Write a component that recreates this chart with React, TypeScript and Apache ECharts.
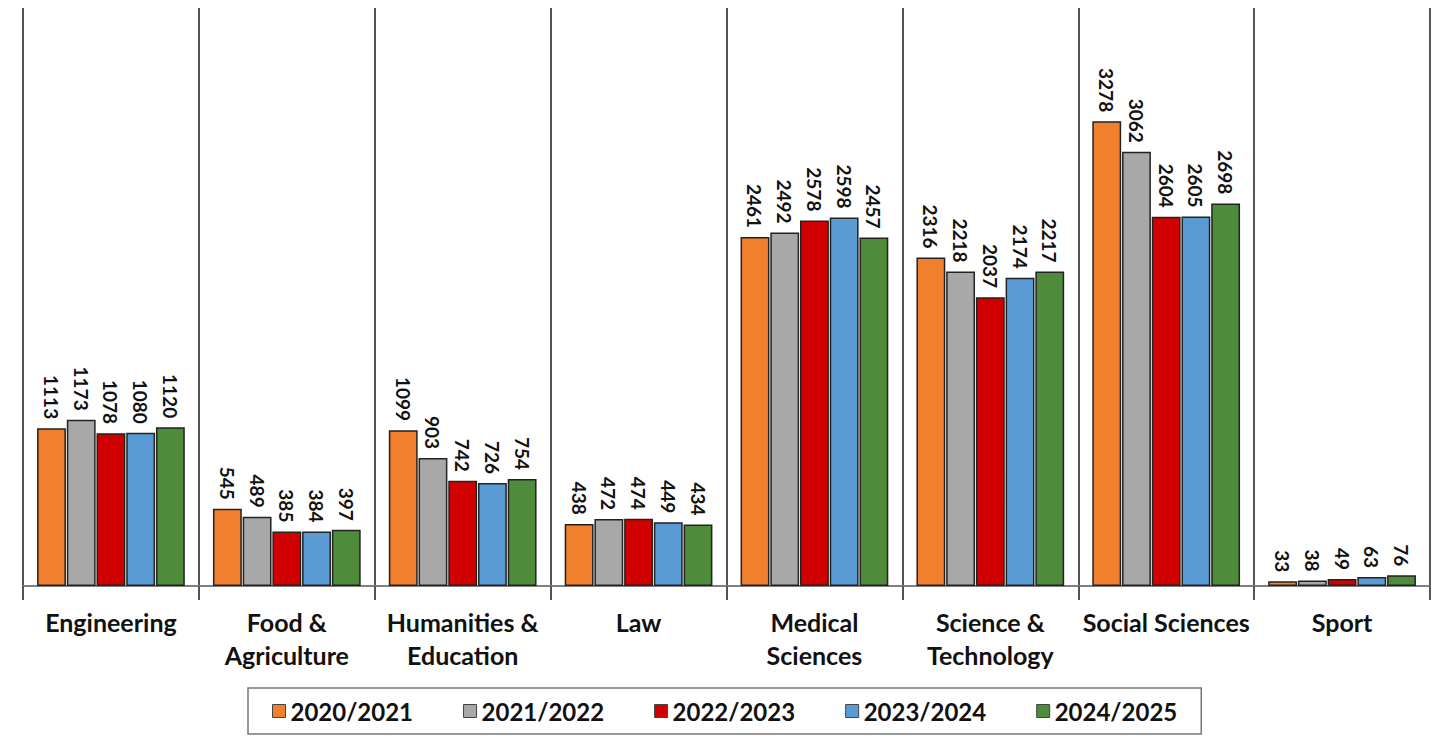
import React, { useEffect, useRef } from "react";
import * as echarts from "echarts";

const categories = [
  "Engineering",
  "Food &\nAgriculture",
  "Humanities &\nEducation",
  "Law",
  "Medical\nSciences",
  "Science &\nTechnology",
  "Social Sciences",
  "Sport",
];

const seriesNames = ["2020/2021", "2021/2022", "2022/2023", "2023/2024", "2024/2025"];

const y2020 = [1113, 545, 1099, 438, 2461, 2316, 3278, 33];
const y2021 = [1173, 489, 903, 472, 2492, 2218, 3062, 38];
const y2022 = [1078, 385, 742, 474, 2578, 2037, 2604, 49];
const y2023 = [1080, 384, 726, 449, 2598, 2174, 2605, 63];
const y2024 = [1120, 397, 754, 434, 2457, 2217, 2698, 76];

const seriesValues = [y2020, y2021, y2022, y2023, y2024];
const colors = ["#F07F2E", "#A8A8A8", "#D00000", "#5B9BD5", "#4E8B3A"];

const FONT = "Lato, 'Open Sans', sans-serif";

export default function App() {
  const ref = useRef<HTMLDivElement>(null);

  useEffect(() => {
    if (!ref.current) return;
    const chart = echarts.init(ref.current, undefined, { renderer: "svg" });
    chart.setOption({
      animation: false,
      backgroundColor: "#ffffff",
      textStyle: { fontFamily: FONT },
      grid: { left: 23, right: 13, top: 8, bottom: 156, containLabel: false },
      legend: {
        data: seriesNames,
        left: 248,
        top: 688,
        padding: [11, 24, 11, 24],
        itemGap: 50,
        itemWidth: 13,
        itemHeight: 13,
        icon: "rect",
        borderColor: "#777",
        borderWidth: 1.5,
        itemStyle: { borderColor: "#444", borderWidth: 1 },
        textStyle: { fontFamily: FONT, fontSize: 24, fontWeight: "bold", color: "#111" },
      },
      xAxis: {
        type: "category",
        data: categories,
        axisLine: { show: true, lineStyle: { color: "#808080", width: 2 } },
        axisTick: { show: true, length: 14, alignWithLabel: false, lineStyle: { color: "#555", width: 2 } },
        splitLine: { show: true, lineStyle: { color: "#555", width: 2 } },
        axisLabel: {
          interval: 0,
          margin: 19,
          fontFamily: FONT,
          fontSize: 25,
          fontWeight: "bold",
          color: "#111",
          lineHeight: 33,
          verticalAlign: "top",
        },
      },
      yAxis: {
        type: "value",
        min: 0,
        max: 4076,
        show: false,
        splitLine: { show: false },
      },
      series: seriesNames.map((name, i) => ({
        name,
        type: "bar",
        data: seriesValues[i],
        barCategoryGap: "16%",
        barGap: "3%",
        itemStyle: { color: colors[i], borderColor: "#222", borderWidth: 1.5 },
        label: {
          show: true,
          position: "top",
          rotate: -90,
          align: "right",
          verticalAlign: "middle",
          distance: 9,
          fontFamily: FONT,
          fontSize: 19,
          fontWeight: "bold",
          color: "#111",
        },
      })),
    });
    return () => chart.dispose();
  }, []);

  return (
    <div
      ref={ref}
      style={{ position: "fixed", left: 0, top: 0, width: 1443, height: 742, background: "#fff" }}
    />
  );
}
